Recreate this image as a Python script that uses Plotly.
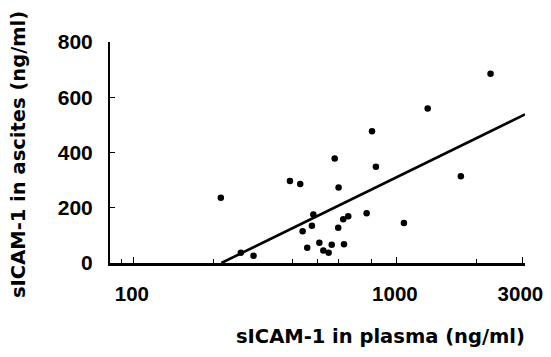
import plotly.graph_objects as go

plasma = [214, 255, 285, 392, 429, 438, 456, 475, 481, 507, 525, 550, 565, 580,
          600, 598, 625, 629, 653, 767, 804, 832, 1063, 1309, 1750, 2270]
ascites = [236, 37, 26, 297, 286, 115, 55, 135, 176, 73, 45, 37, 66, 378,
           273, 128, 158, 68, 169, 180, 477, 348, 145, 559, 314, 685]

fit_x = [215, 3070]
fit_y = [0, 538]

x_ticks = [100, 1000, 3000]
x_minor = [90, 200, 400, 500, 600, 800, 2000]
y_ticks = [0, 200, 400, 600, 800]

FONT = "Liberation Sans, Arial, sans-serif"
TFONT = "DejaVu Sans, sans-serif"

fig = go.Figure()
fig.add_trace(go.Scatter(x=fit_x, y=fit_y, mode="lines",
                         line=dict(color="black", width=2.6), showlegend=False))
fig.add_trace(go.Scatter(x=plasma, y=ascites, mode="markers",
                         marker=dict(color="black", size=6.5), showlegend=False))

W, H = 535, 341
L, R, T, B = 102, 18, 34, 86
pw, ph = W - L - R, H - T - B

fig.update_layout(
    width=W, height=H,
    margin=dict(l=L, r=R, t=T, b=B, autoexpand=False),
    paper_bgcolor="white", plot_bgcolor="white",
    font=dict(family=FONT, color="black"),
    xaxis=dict(type="log", range=[1.909, 3.487], automargin=False,
               tickvals=x_ticks, ticktext=[str(v) for v in x_ticks],
               ticks="inside", ticklen=6, tickwidth=1, tickcolor="black",
               minor=dict(tickvals=x_minor, ticks="inside", ticklen=4, tickcolor="black"),
               showline=True, linecolor="black", linewidth=2.5,
               showgrid=False, zeroline=False,
               tickfont=dict(size=20.5, family=FONT, weight="bold"),
               ticklabelstandoff=11, ticklabelshift=-2, ticklabeloverflow="allow"),
    yaxis=dict(range=[0, 800], tickvals=y_ticks, automargin=False,
               ticks="inside", ticklen=5, tickwidth=1, tickcolor="black",
               showline=True, linecolor="black", linewidth=2,
               showgrid=False, zeroline=False,
               tickfont=dict(size=21, family=FONT, weight="bold"),
               ticklabelstandoff=11),
    annotations=[
        dict(text="sICAM-1 in plasma (ng/ml)", xref="paper", yref="paper",
             x=(372 - L) / pw, y=-(328 - (T + ph)) / ph, xanchor="center", yanchor="middle",
             showarrow=False, borderpad=0,
             font=dict(size=19.5, family=TFONT, weight="bold")),
        dict(text="sICAM-1 in ascites (ng/ml)", xref="paper", yref="paper",
             x=-(L - 10) / pw, y=((T + ph) - 147) / ph, xanchor="center", yanchor="middle",
             textangle=-90, borderpad=0,
             showarrow=False, font=dict(size=19.5, family=TFONT, weight="bold")),
    ],
)

fig.write_html("out.html")
